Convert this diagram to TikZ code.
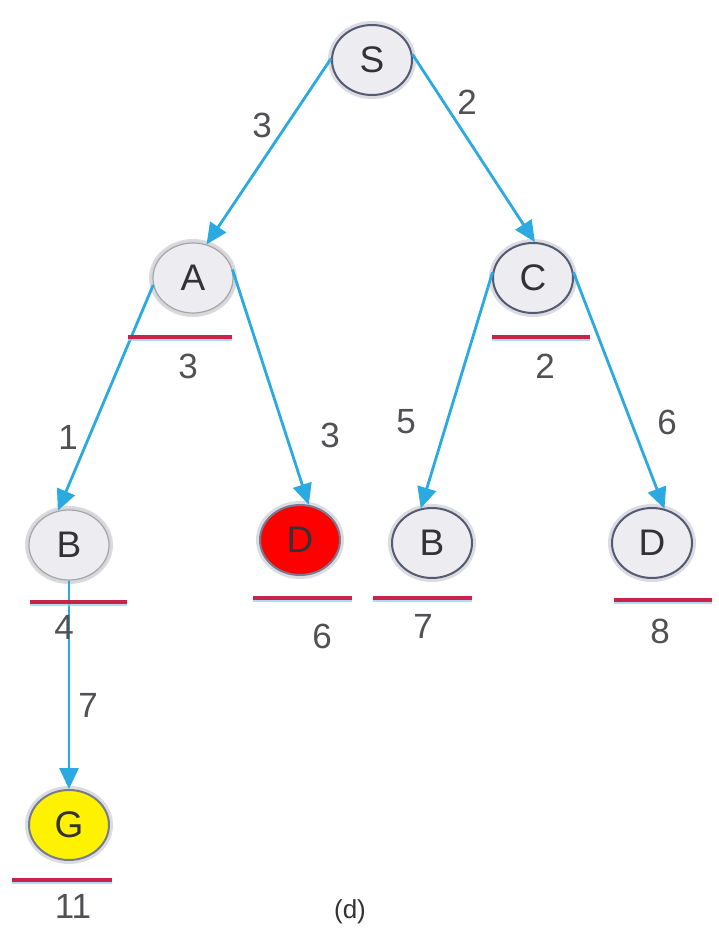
\documentclass[tikz,border=0pt]{standalone}
\usepackage{fontspec}
\setmainfont{Liberation Sans}
\usetikzlibrary{shapes.geometric,arrows.meta}
\definecolor{edgecol}{RGB}{43,170,226}
\definecolor{ulcol}{RGB}{200,35,75}
\definecolor{ulshadow}{RGB}{150,200,240}
\definecolor{nodefill}{RGB}{237,237,241}
\definecolor{bordcol}{RGB}{85,90,115}
\definecolor{txtcol}{RGB}{50,50,55}
\tikzset{
  nd/.style={ellipse, minimum width=80pt, minimum height=70pt, inner sep=0pt,
    fill=nodefill, draw=bordcol, line width=2pt, text=txtcol,
    font=\fontsize{37}{37}\selectfont,
    preaction={draw=bordcol!60, line width=8pt, opacity=0.35}},
  ndlight/.style={nd, draw=gray!70, line width=1.2pt,
    preaction={draw=gray!40, line width=5pt, opacity=0.3}},
  edge/.style={draw=edgecol, line width=2.8pt, -{Triangle[length=21pt,width=19pt]}},
  cost/.style={text=txtcol!85, font=\fontsize{35}{35}\selectfont, inner sep=0pt},
  wlab/.style={text=txtcol!85, font=\fontsize{35}{35}\selectfont, inner sep=0pt},
  ul/.style={draw=ulcol, line width=3.5pt},
  ulsh/.style={draw=ulshadow, line width=1.5pt, opacity=0.7}
}
\begin{document}
\begin{tikzpicture}[x=1pt,y=-1pt]
\useasboundingbox[fill=white] (0,0) rectangle (719,940);
% nodes
\node[nd] (S) at (372,60) {S};
\node[ndlight] (A) at (193,278) {A};
\node[nd] (C) at (533,278) {C};
\node[ndlight] (B1) at (69,545) {B};
\node[nd, fill=red, draw=bordcol!80] (D1) at (300,540) {D};
\node[nd] (B2) at (432,543) {B};
\node[nd] (D2) at (652,543) {D};
\node[nd, fill=yellow, draw=bordcol!80] (G) at (69,825) {G};
% edges
\draw[edge] (S.178) -- (A.68);
\draw[edge] (S.8) -- (C.87);
\draw[edge] (A.190) -- (B1.108);
\draw[edge] (A.12) -- (D1.76);
\draw[edge] (C.172) -- (B2.108);
\draw[edge] (C.8) -- (D2.70);
\draw[edge] (B1.south) -- (G.north);
% edge weights
\node[wlab] (w1) at (262,125) {3};
\node[wlab] (w2) at (467,102) {2};
\node[wlab] (w3) at (68,437) {1};
\node[wlab] (w4) at (330,435) {3};
\node[wlab] (w5) at (406,422) {5};
\node[wlab] (w6) at (667,422) {6};
\node[wlab] (w7) at (88,705) {7};
% underlines
\draw[ulsh] (128,340) -- (232,340);
\draw[ul] (128,337) -- (232,337);
\draw[ulsh] (492,340) -- (590,340);
\draw[ul] (492,337) -- (590,337);
\draw[ulsh] (30,605) -- (127,605);
\draw[ul] (30,602) -- (127,602);
\draw[ulsh] (253,601) -- (352,601);
\draw[ul] (253,598) -- (352,598);
\draw[ulsh] (373,601) -- (472,601);
\draw[ul] (373,598) -- (472,598);
\draw[ulsh] (614,603) -- (712,603);
\draw[ul] (614,600) -- (712,600);
\draw[ulsh] (12,883) -- (112,883);
\draw[ul] (12,880) -- (112,880);
% costs
\node[cost] (cA) at (188,366) {3};
\node[cost] (cC) at (545,366) {2};
\node[cost] (cB1) at (64,627) {4};
\node[cost] (cD1) at (322,636) {6};
\node[cost] (cB2) at (423,626) {7};
\node[cost] (cD2) at (660,631) {8};
\node[cost] (cG) at (73,906) {11};
\node[text=txtcol, font=\fontsize{26}{26}\selectfont] (cap) at (350,912) {(d)};
\end{tikzpicture}
\end{document}
